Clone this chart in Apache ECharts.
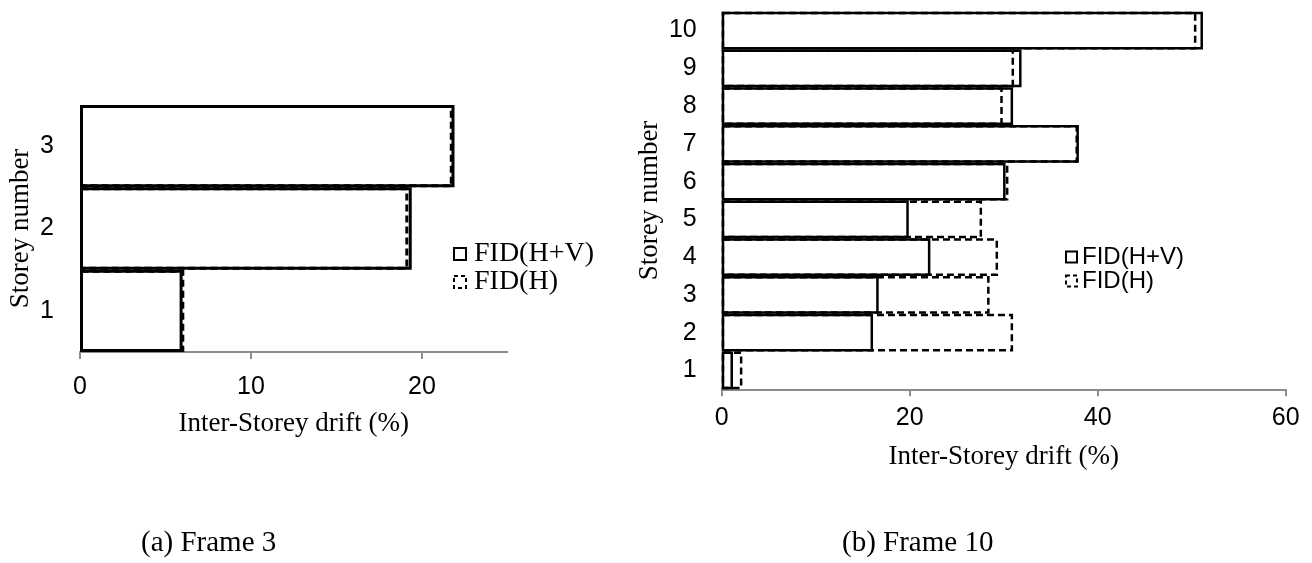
<!DOCTYPE html>
<html>
<head>
<meta charset="utf-8">
<script src="https://cdn.jsdelivr.net/npm/echarts@6/dist/echarts.min.js"></script>
<style>
  html, body { margin: 0; padding: 0; background: #fff; }
  #chart { width: 1312px; height: 563px; }
</style>
</head>
<body>
<div id="chart"></div>
<script>
// Storey labels (bottom to top) and drift values (%) for each frame
const storeys3 = ['1', '2', '3'];
const driftHV3 = [6.0, 19.4, 21.9];
const driftH3 = [6.1, 19.2, 21.8];

const storeys10 = ['1', '2', '3', '4', '5', '6', '7', '8', '9', '10'];
const driftHV10 = [1.2, 16.1, 16.7, 22.2, 19.9, 30.2, 38.0, 31.0, 31.9, 51.2];
const driftH10 = [2.2, 31.0, 28.5, 29.4, 27.7, 30.5, 37.9, 29.9, 31.1, 50.5];

const ticks3 = [0, 10, 20];
const ticks10 = [0, 20, 40, 60];

const seriesNames = ['FID(H+V)', 'FID(H)'];
const captions = ['(a) Frame 3', '(b) Frame 10'];

const SERIF = '"Liberation Serif", "Times New Roman", serif';
const NARROW = '"Liberation Sans Narrow", "Liberation Sans", sans-serif';
const ARIAL = '"Liberation Sans", Arial, sans-serif';
const DASH = [7, 4];
const AXIS_GREY = '#8c8c8c';

function barSeries(name, data, idx, dashed, bw) {
  return {
    type: 'bar',
    name: name,
    xAxisIndex: idx,
    yAxisIndex: idx,
    data: data,
    barGap: '-100%',
    barCategoryGap: '0%',
    silent: true,
    itemStyle: {
      color: 'rgba(0,0,0,0)',
      borderColor: '#000',
      borderWidth: bw,
      borderType: dashed ? DASH : 'solid'
    }
  };
}

function valueAxis(idx, max, interval, ticks, labelFont, labelSize, labelMargin, nameGap) {
  return {
    type: 'value',
    gridIndex: idx,
    min: 0,
    max: max,
    interval: interval,
    name: 'Inter-Storey drift (%)',
    nameLocation: 'middle',
    nameGap: nameGap,
    nameTextStyle: { fontFamily: SERIF, fontSize: 27, color: '#000' },
    axisLine: { show: true, lineStyle: { color: AXIS_GREY, width: 2 } },
    axisTick: { show: true, length: 7, customValues: ticks, lineStyle: { color: AXIS_GREY, width: 2 } },
    axisLabel: { customValues: ticks, margin: labelMargin, fontFamily: labelFont, fontSize: labelSize, color: '#000' },
    splitLine: { show: false }
  };
}

function categoryAxis(idx, cats, labelMargin, nameGap) {
  return {
    type: 'category',
    gridIndex: idx,
    data: cats,
    name: 'Storey number',
    nameLocation: 'middle',
    nameGap: nameGap,
    nameTextStyle: { fontFamily: SERIF, fontSize: 27, color: '#000' },
    axisLine: { show: false },
    axisTick: { show: false },
    axisLabel: { margin: labelMargin, fontFamily: NARROW, fontSize: 25, color: '#000' },
    splitLine: { show: false }
  };
}

function legendItems(bw) {
  return [
    { name: seriesNames[0], itemStyle: { color: '#fff', borderColor: '#000', borderWidth: bw, borderType: 'solid' } },
    { name: seriesNames[1], itemStyle: { color: '#fff', borderColor: '#000', borderWidth: bw, borderType: [4, 3] } }
  ];
}

const chart = echarts.init(document.getElementById('chart'), null, { renderer: 'canvas' });

chart.setOption({
  backgroundColor: '#fff',
  animation: false,
  grid: [
    { left: 80, top: 105, width: 427.5, height: 247, outerBoundsMode: 'none' },
    { left: 721.7, top: 11.7, width: 564, height: 377.6, outerBoundsMode: 'none' }
  ],
  xAxis: [
    valueAxis(0, 25, 10, ticks3, NARROW, 25, 23, 58),
    valueAxis(1, 60, 20, ticks10, ARIAL, 25, 16, 54)
  ],
  yAxis: [
    categoryAxis(0, storeys3, 26, 46),
    categoryAxis(1, storeys10, 25, 58)
  ],
  legend: [
    {
      data: legendItems(2),
      orient: 'vertical',
      left: 453,
      top: 240,
      itemWidth: 12,
      itemHeight: 12,
      itemGap: 0,
      padding: 0,
      icon: 'rect',
      selectedMode: false,
      textStyle: { fontFamily: SERIF, fontSize: 28, color: '#000', lineHeight: 25, padding: [0, 0, 0, 3] }
    },
    {
      data: legendItems(2),
      orient: 'vertical',
      left: 1065,
      top: 245,
      itemWidth: 11,
      itemHeight: 11,
      itemGap: 0,
      padding: 0,
      icon: 'rect',
      selectedMode: false,
      textStyle: { fontFamily: ARIAL, fontSize: 24, color: '#000', lineHeight: 22, padding: [0, 0, 0, 0] }
    }
  ],
  graphic: [
    { type: 'text', left: 141, top: 529, style: { text: captions[0], font: '29px ' + SERIF, fill: '#000' } },
    { type: 'text', left: 842, top: 529, style: { text: captions[1], font: '29px ' + SERIF, fill: '#000' } }
  ],
  series: [
    barSeries(seriesNames[1], driftH3, 0, true, 3),
    barSeries(seriesNames[0], driftHV3, 0, false, 3),
    barSeries(seriesNames[1], driftH10, 1, true, 2.5),
    barSeries(seriesNames[0], driftHV10, 1, false, 2.5)
  ]
});
</script>
</body>
</html>
